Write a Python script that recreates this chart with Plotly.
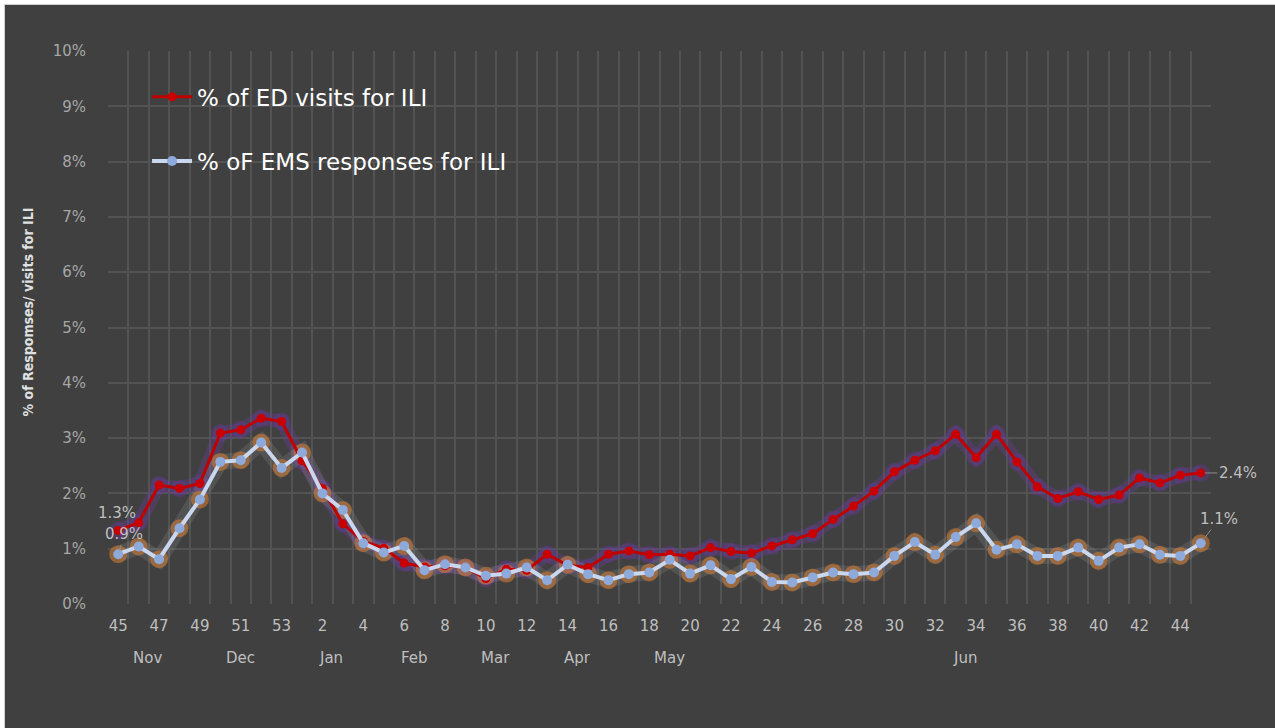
import plotly.graph_objects as go

# ---- data ----
weeks = [45, 46, 47, 48, 49, 50, 51, 52, 53] + list(range(1, 46))
ed_pct = [1.33, 1.47, 2.15, 2.09, 2.18, 3.09, 3.15, 3.36, 3.30, 2.59,
          2.09, 1.45, 1.13, 1.01, 0.74, 0.67, 0.69, 0.66, 0.46, 0.63,
          0.61, 0.90, 0.70, 0.66, 0.90, 0.96, 0.89, 0.90, 0.87, 1.02,
          0.95, 0.92, 1.05, 1.16, 1.27, 1.53, 1.77, 2.04, 2.39, 2.60,
          2.77, 3.07, 2.65, 3.07, 2.57, 2.12, 1.91, 2.03, 1.89, 1.97,
          2.28, 2.19, 2.33, 2.37]
ems_pct = [0.90, 1.04, 0.81, 1.37, 1.89, 2.57, 2.60, 2.92, 2.46, 2.74,
           2.00, 1.70, 1.10, 0.93, 1.05, 0.61, 0.72, 0.66, 0.51, 0.55,
           0.66, 0.43, 0.71, 0.54, 0.43, 0.54, 0.57, 0.80, 0.55, 0.70,
           0.45, 0.67, 0.40, 0.39, 0.48, 0.57, 0.54, 0.57, 0.87, 1.12,
           0.89, 1.21, 1.46, 0.98, 1.08, 0.87, 0.87, 1.02, 0.78, 1.02,
           1.08, 0.89, 0.87, 1.10]
months = ["Nov", "Dec", "Jan", "Feb", "Mar", "Apr", "May", "Jun"]
month_week_pos = [1.42, 5.97, 10.43, 14.49, 18.45, 22.47, 26.97, 41.46]
ed_name = "% of ED visits for ILI"
ems_name = "% oF EMS responses for ILI"
y_title = "% of Respomses/ visits for ILI"

idx = list(range(len(weeks)))
BG = "#404040"
GRID = "#535353"
LBL = "#bfbfbf"
FONT = "DejaVu Sans"

fig = go.Figure()

# glow layers (decorative)
fig.add_trace(go.Scatter(x=idx, y=ed_pct, mode="lines+markers", showlegend=False, hoverinfo="skip",
                         line=dict(color="rgba(110,60,170,0.28)", width=14),
                         marker=dict(size=18, color="rgba(110,60,170,0.30)")))
fig.add_trace(go.Scatter(x=idx, y=ems_pct, mode="lines", showlegend=False, hoverinfo="skip",
                         line=dict(color="rgba(210,210,220,0.12)", width=16)))
fig.add_trace(go.Scatter(x=idx, y=ems_pct, mode="markers", showlegend=False, hoverinfo="skip",
                         marker=dict(size=18, color="rgba(215,125,50,0.55)")))

fig.add_trace(go.Scatter(x=idx, y=ed_pct, mode="lines+markers", name=ed_name,
                         line=dict(color="#c00000", width=3),
                         marker=dict(size=9, color="#c80000"), legend="legend"))
fig.add_trace(go.Scatter(x=idx, y=ems_pct, mode="lines+markers", name=ems_name,
                         line=dict(color="#c9d7ef", width=4),
                         marker=dict(size=10, color="#8eaadb"), legend="legend2"))

annotations = []
for m, p in zip(months, month_week_pos):
    annotations.append(dict(x=p, y=0, xref="x", yref="paper", text=m, showarrow=False,
                            yanchor="middle", yshift=-54, font=dict(size=15, color=LBL, family=FONT)))
# data labels
lblfont = dict(size=15, color=LBL, family=FONT)
annotations += [
    dict(x=0, y=ed_pct[0], text="1.3%", showarrow=False, xshift=-1, yshift=17, font=lblfont),
    dict(x=0, y=ems_pct[0], text="0.9%", showarrow=True, ax=6, ay=-20, arrowhead=0,
         arrowwidth=1, arrowcolor="#8c8c8c", standoff=4, font=lblfont),
    dict(x=idx[-1], y=ed_pct[-1], text="2.4%", showarrow=True, ax=37, ay=0, arrowhead=0,
         arrowwidth=1, arrowcolor="#8c8c8c", standoff=4, font=lblfont),
    dict(x=idx[-1], y=ems_pct[-1], text="1.1%", showarrow=True, ax=18, ay=-24, arrowhead=0,
         arrowwidth=1, arrowcolor="#8c8c8c", standoff=4, font=lblfont),
]
# y axis title
annotations.append(dict(x=(27.5 - 108) / 1103, y=(604 - 312) / 553, xref="paper", yref="paper",
                        text=f"<b>{y_title}</b>", textangle=-90, showarrow=False,
                        xanchor="center", yanchor="middle",
                        font=dict(size=14, color="#e0e0e0",
                                  family="Liberation Sans Narrow, DejaVu Sans Condensed, Arial")))

legfont = dict(size=23, color="#ffffff", family=FONT)
fig.update_layout(
    width=1275, height=728,
    margin=dict(l=108, r=64, t=51, b=124),
    paper_bgcolor=BG, plot_bgcolor=BG,
    annotations=annotations,
    legend=dict(x=0.0354, y=0.917, xanchor="left", yanchor="middle", bgcolor="rgba(0,0,0,0)",
                font=legfont, itemwidth=40),
    legend2=dict(x=0.0354, y=0.801, xanchor="left", yanchor="middle", bgcolor="rgba(0,0,0,0)",
                 font=legfont, itemwidth=40),
    shapes=[
        dict(type="rect", xref="paper", yref="paper", x0=-0.2, x1=1.2,
             y0=(604 - 4) / 553, y1=1.2, fillcolor="#ffffff", line=dict(width=0)),
        dict(type="rect", xref="paper", yref="paper", x0=-0.2, x1=(5 - 108) / 1103,
             y0=-0.3, y1=1.2, fillcolor="#ffffff", line=dict(width=0)),
        dict(type="line", xref="paper", yref="paper", x0=(4.5 - 108) / 1103, x1=(4.5 - 108) / 1103,
             y0=-0.3, y1=(604 - 4) / 553, line=dict(color="#d0d0d0", width=1)),
        dict(type="line", xref="paper", yref="paper", x0=(4.5 - 108) / 1103, x1=1.2,
             y0=(604 - 4.5) / 553, y1=(604 - 4.5) / 553, line=dict(color="#d0d0d0", width=1)),
    ],
    showlegend=True,
)

fig.update_xaxes(
    range=[-0.5, 53.5], tickmode="array", tickvals=idx[::2], ticktext=[str(w) for w in weeks[::2]],
    showgrid=False, zeroline=False, showline=False,
    ticks="outside", ticklen=8, tickcolor=BG,
    tickfont=dict(size=15, color=LBL, family=FONT),
    minor=dict(tickvals=[i - 0.5 for i in range(len(weeks) + 1)], showgrid=True,
               gridcolor=GRID, gridwidth=1.5, ticks=""),
)
fig.update_yaxes(
    range=[0, 10], tickmode="array", tickvals=list(range(0, 11)),
    ticktext=[f"{v}%" for v in range(0, 11)],
    showgrid=True, gridcolor=GRID, gridwidth=1.5, zeroline=False, showline=False,
    ticks="outside", ticklen=18, tickcolor=BG,
    tickfont=dict(size=15, color="#a6a6a6", family=FONT),
)

fig.write_html("out.html")
